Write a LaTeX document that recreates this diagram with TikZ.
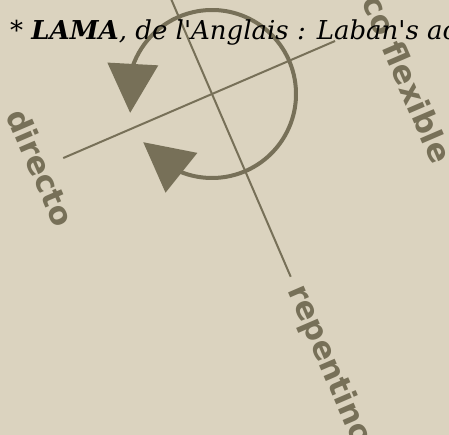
\documentclass[tikz,border=0pt]{standalone}
\usepackage{fontspec}
\usetikzlibrary{arrows.meta,bending,calc}
\newfontfamily\axisfont{DejaVu Sans}
\newfontfamily\notefont{DejaVu Serif}
\definecolor{sand}{HTML}{DBD3BF}
\definecolor{umber}{HTML}{777058}

\begin{document}
\begin{tikzpicture}[x=1pt,y=1pt,
  axisline/.style={draw=umber,line width=2pt},
  turnline/.style={draw=umber,line width=4pt,
    arrows={Triangle[flex,length=49pt,width=50pt]-Triangle[flex,length=49pt,width=50pt]}},
  axislabel/.style={text=umber,inner sep=0pt,rotate=-66.7,
    font=\axisfont\bfseries\fontsize{31}{31}\selectfont}]
\fill[sand] (0,0) rectangle (449,-435);
\useasboundingbox (0,0) rectangle (449,-435);
\clip (0,0) rectangle (449,-435);
% the two axes cross at the centre of the turn
\coordinate (centre) at (212,-94);
\coordinate (top end) at ($(centre)+(113.3:200)$);
\coordinate (repentino end) at ($(centre)+(-66.7:199)$);
\coordinate (directo end) at ($(centre)+(203.3:162)$);
\coordinate (flexible end) at ($(centre)+(23.3:134)$);
\draw[axisline] (top end) -- (repentino end);
\draw[axisline] (directo end) -- (flexible end);
\draw[turnline] ($(centre)+(193:84)$) arc[start angle=193,end angle=-145,radius=84];
% labels at the axis ends
\node[axislabel,anchor=north] (directo) at ($(directo end)+(203.3:12)$) {directo};
\node[axislabel,anchor=west] (repentino) at ($(repentino end)+(-66.7:11)$) {repentino};
\node[axislabel,anchor=base west] (flexible) at ($(flexible end)+(23.3:40)+(-66.7:-26)$) {co flexible};
% note on top
\node[anchor=base west,inner sep=0pt,font=\notefont\fontsize{26}{26}\selectfont] (lama) at (10,-40)
  {* \textbf{\textit{LAMA}}\textit{, de l\textquotesingle Anglais : Laban\textquotesingle s ac}};
\end{tikzpicture}
\end{document}
